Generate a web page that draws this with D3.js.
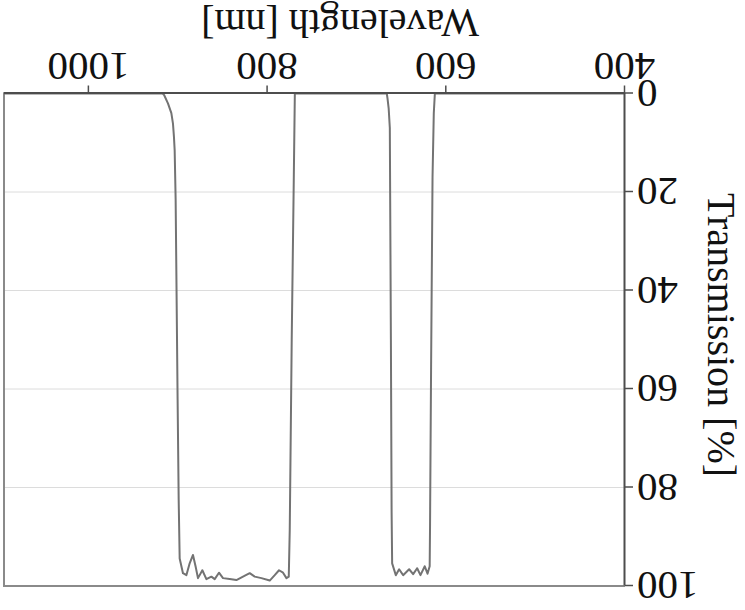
<!DOCTYPE html>
<html>
<head>
<meta charset="utf-8">
<script src="https://cdn.jsdelivr.net/npm/d3@7"></script>
<style>
  html, body { margin: 0; padding: 0; background: #fff; }
  svg { display: block; }
  text { font-family: "Liberation Serif", "Times New Roman", serif; fill: #111; }
</style>
</head>
<body>
<svg id="chart" width="745" height="610"></svg>
<script>
// Filter transmission spectrum (dual band-pass)
const wavelength = [
  400, 612.8, 614, 615.4, 617, 618.2, 618.6,
  621, 624.1, 628.9, 632.6, 637.1, 641.6, 648.3, 652.8, 656.5, 660.6,
  661.2, 662, 663.2, 664.5, 665.8, 666.6,
  769.5, 770.7, 773, 775.2, 776.3,
  778.9, 782.7, 787.2, 792, 797.6, 806.9, 814.4, 820, 827.5, 834.9, 842.4,
  849.9, 854.4, 859.2, 862.9, 868.5, 873, 877.9, 880.5, 883.5, 887.2, 890.9,
  894.7, 898.4, 899.5, 900.7, 901.8, 902.9, 904, 904.8, 905.9, 907.7, 911.5,
  915.8, 917.5, 1095
];
const transmission = [
  0, 0, 4, 17, 55, 88, 96,
  97.5, 96, 97.8, 96.4, 97.6, 96.6, 97.8, 96.6, 97.8, 95.4,
  85, 50, 7, 3, 1, 0,
  0, 17.6, 50, 88.6, 98.1,
  98.4, 97.3, 96.8, 97.8, 98.9, 98.4, 98.1, 97.4, 98.1, 98.8, 98.6,
  98.4, 97.3, 98.6, 98.1, 98.6, 96.8, 98.4, 96.1, 93.7, 95.4, 97.8,
  97.4, 94.4, 82.5, 62.2, 41.9, 21.6, 11.5, 8.8, 6.1, 4, 2,
  0.3, 0, 0
];
const xTicks = [400, 600, 800, 1000];
const yTicks = [0, 20, 40, 60, 80, 100];
const xTitle = "Wavelength [nm]";
const yTitle = "Transmission [%]";

const W = 745, H = 610;
const svg = d3.select("#chart");

// The whole figure is drawn turned half a revolution about its centre.
const g = svg.append("g").attr("transform", `rotate(180, ${W / 2}, ${H / 2})`);

const x = d3.scaleLinear().domain([400, 1095]).range([120, 741]);
const y = d3.scaleLinear().domain([0, 100]).range([516.5, 24]);

// horizontal grid
g.append("g")
  .selectAll("line")
  .data(yTicks.filter(v => v > 0 && v < 100))
  .join("line")
  .attr("x1", x.range()[0]).attr("x2", x.range()[1])
  .attr("y1", d => y(d)).attr("y2", d => y(d))
  .attr("stroke", "#dcdcdc").attr("stroke-width", 1);

// frame on the far sides
g.append("path")
  .attr("d", `M${x.range()[0]},${y(100)}H${x.range()[1]}V${y(0)}`)
  .attr("fill", "none").attr("stroke", "#8a8a8a").attr("stroke-width", 2);

// spectrum
const pts = wavelength.map((w, i) => [w, transmission[i]]);
g.append("path")
  .datum(pts)
  .attr("fill", "none")
  .attr("stroke", "#737373")
  .attr("stroke-width", 2)
  .attr("stroke-linejoin", "round")
  .attr("d", d3.line().x(d => x(d[0])).y(d => y(d[1])));

// axes
const xAxis = g.append("g")
  .attr("transform", `translate(0,${y(0)})`)
  .call(d3.axisBottom(x).tickValues(xTicks).tickFormat(d3.format("d"))
    .tickSize(8).tickPadding(3).tickSizeOuter(0));
const yAxis = g.append("g")
  .attr("transform", `translate(${x(400)},0)`)
  .call(d3.axisLeft(y).tickValues(yTicks).tickFormat(d3.format("d"))
    .tickSize(8).tickPadding(4).tickSizeOuter(0));

[xAxis, yAxis].forEach(a => {
  a.select(".domain").attr("stroke", "#4d4d4d").attr("stroke-width", 2);
  a.selectAll(".tick line").attr("stroke", "#4d4d4d").attr("stroke-width", 1.5);
  a.selectAll(".tick text")
    .attr("font-family", "Liberation Serif, Times New Roman, serif")
    .attr("font-size", 41).attr("fill", "#111");
});

// axis titles
g.append("text")
  .attr("x", 405).attr("y", 600)
  .attr("text-anchor", "middle")
  .attr("font-size", 40)
  .text(xTitle);

g.append("text")
  .attr("transform", `translate(37,275) rotate(-90)`)
  .attr("text-anchor", "middle")
  .attr("font-size", 40)
  .text(yTitle);
</script>
</body>
</html>
